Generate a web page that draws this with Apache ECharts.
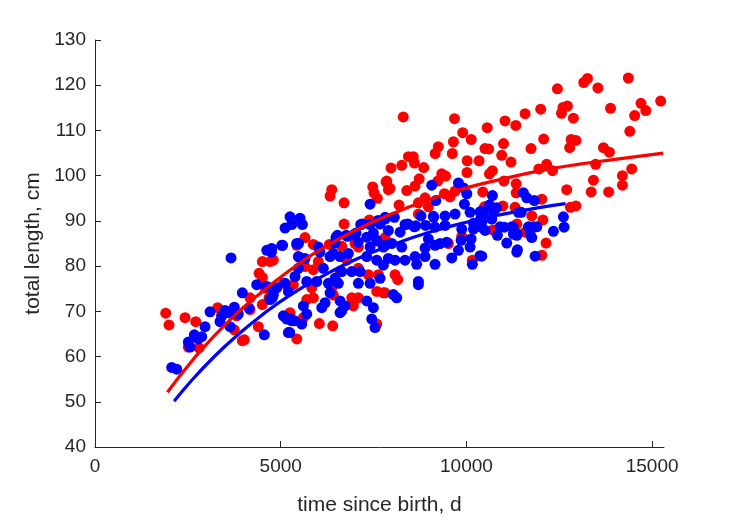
<!DOCTYPE html>
<html>
<head>
<meta charset="utf-8">
<script src="https://cdn.jsdelivr.net/npm/echarts@6/dist/echarts.min.js"></script>
<style>html,body{margin:0;padding:0;background:#fff}#c{width:729px;height:521px}</style>
</head>
<body>
<div id="c"></div>
<script>
const xTicks = [0, 5000, 10000, 15000];
const yTicks = [40, 50, 60, 70, 80, 90, 100, 110, 120, 130];
const xLabel = 'time since birth, d';
const yLabel = 'total length, cm';

// red observations [time since birth (d), total length (cm)]
const redPoints = [
[8300,113.0],[9680,112.6],[9900,109.5],[10560,110.6],[11040,112.1],[11330,111.1],[11580,113.7],[12000,114.7],[12080,108.1],[12450,119.2],
[12560,113.8],[12600,115.1],[12720,115.4],[12880,112.7],[12820,108.0],[12950,107.8],[13160,120.6],[13260,121.5],[13540,119.4],[13880,114.9],
[14360,121.6],[14400,109.8],[14530,113.3],[14700,116.0],[14830,114.4],[15230,116.5],
[10130,108.0],[9650,107.5],[9245,106.4],[9160,104.9],[9620,104.9],[10020,103.3],[10340,103.3],[10500,106.0],[10600,105.9],[11000,107.1],
[10950,104.5],[11200,103.0],[11740,106.0],[12780,106.2],[13690,106.2],[13850,105.2],[13480,102.5],[11950,101.5],[12160,102.5],[12320,101.1],
[14450,101.5],[14200,100.0],[14200,97.9],[13420,99.0],[13360,96.4],[13830,96.4],[12700,96.9],[12030,94.8],[11340,98.2],[11340,96.2],
[11310,93.0],[10980,93.3],[11760,91.1],[12060,90.2],[12800,93.0],[12950,93.3],[11360,89.3],[11580,87.5],[10710,88.0],[12145,85.1],
[12030,82.4],[10700,101.1],[10620,100.4],[11010,98.8],[10440,96.4],
[8440,104.2],[8570,104.2],[8600,102.8],[8260,102.3],[7970,101.7],[8850,101.8],[9335,100.4],[9440,99.9],[10016,100.7],[8730,99.3],
[9230,98.8],[7855,98.8],[7944,97.2],[8617,97.7],[8393,96.7],[9695,96.6],[9408,96.0],[9560,95.3],[8887,95.1],[8187,93.5],
[8707,94.0],[8976,93.1],[8707,91.5],[10485,93.1],
[7837,98.6],[7900,96.9],[7478,97.5],[7513,96.2],[7602,95.0],[6374,96.9],[6329,95.5],[6706,94.0],[6706,89.3],[7387,90.2],
[5655,86.3],[5879,84.8],[5432,84.6],[6310,84.8],[6643,84.4],[7629,85.5],[7810,86.3],[7002,85.0],[7091,84.2],
[8079,78.1],[8151,77.0],[7810,74.1],[10160,81.3],[9514,85.0],[9875,86.6],
[4802,81.3],[5655,79.9],[5879,79.2],[6013,81.0],[6598,78.8],[5071,76.2],[5340,75.9],[5835,75.2],[5879,73.0],[5701,72.6],
[6374,75.2],[6418,73.6],[5251,69.7],[5610,68.6],[6040,67.3],[6401,66.8],[6913,73.0],[7091,73.0],[6956,71.2],[7586,74.4],
[7764,74.1],[7586,67.2],[6778,81.3],[7091,79.5],[7360,78.1],[7629,78.1],[5432,63.9],
[1904,69.6],[1993,67.0],[2424,68.6],[2712,67.7],[3304,70.8],[3412,69.0],[3751,65.9],[3967,63.5],[4021,63.7],[2513,62.1],
[2801,61.9],[4506,81.0],[4417,78.4],[4507,77.5],[4713,81.0],[4174,73.0],[4174,70.4],[4506,71.5],[4578,75.1],[4398,66.6],
[4686,73.0],[3816,69.0]
];

// blue observations [time since birth (d), total length (cm)]
const bluePoints = [
[9066,97.9],[9786,98.4],[9920,97.3],[10010,96.0],[9175,94.5],[9946,93.7],[10099,91.9],[10368,91.9],[7810,90.8],[8060,90.8],
[9111,91.0],[9426,91.1],[9695,91.5],[8348,89.2],[8600,88.7],[9156,88.6],[9426,89.0],[9875,88.2],[10214,89.0],[10413,89.7],
[7899,87.9],[8214,87.5],
[10700,95.6],[11535,96.2],[11626,95.1],[11830,94.5],[10618,93.5],[10726,91.9],[10457,91.9],[10683,90.4],[11400,91.9],[10368,90.2],
[10503,87.9],[10907,88.7],[11221,88.7],[11265,87.1],[11356,86.8],[11670,88.7],[11804,88.7],[11895,88.7],[11715,87.1],[11760,86.3],
[10834,86.8],[12342,87.7],[12630,88.6],[12612,90.9],[11086,85.1],[11373,83.6],[11356,83.1],[11849,82.2],[10413,82.2],
[10810,92.9],[10382,92.1],[8777,91.1],[9118,90.8],[7193,89.3],[7406,89.2],[7621,90.1],[6528,86.8],[6765,86.8],[6977,87.0],
[7085,85.3],[8424,89.3],[8636,88.9],[8903,89.0],[10190,89.5],[10190,88.2],[10400,88.6],[11475,91.9],[11260,88.6],[11022,88.6],
[11367,87.1],
[7406,93.7],[5251,90.9],[5521,90.6],[5583,89.2],[5117,88.4],[5297,89.2],[5028,84.6],[5432,85.0],[6013,84.2],[6059,83.1],
[6490,86.4],[6463,85.1],[6795,86.6],[7155,89.2],[7029,87.3],[7317,86.4],[7495,87.3],[7675,89.3],[7810,90.4],[7586,85.7],
[7406,84.2],[7764,84.2],[4758,83.9],[6418,82.8],[6821,82.8],
[7810,84.6],[7990,85.0],[8260,84.2],[7899,81.7],[8079,81.3],[8348,81.3],[8617,82.1],[8887,82.1],[8661,80.4],[9156,80.4],
[9605,81.8],[9786,83.5],[10099,84.2],[9857,85.7],[10126,86.0],[10368,82.3],[10160,80.4],[9291,85.0],[9471,85.3],[8707,76.6],
[8707,75.9],[8033,73.7],[8124,73.0],[8887,84.0],[9156,84.6],[8976,86.0],
[5475,82.1],[5655,81.7],[5475,79.5],[5386,77.7],[5117,76.2],[4893,75.2],[4802,73.7],[4713,72.6],[5206,74.4],[5701,76.6],
[5970,76.6],[6283,76.2],[6552,76.2],[6463,77.3],[6643,78.8],[6148,79.5],[6329,74.1],[6194,71.9],[6598,72.3],[6732,71.2],
[5610,71.2],[5701,69.4],[6105,70.8],[6598,69.7],[6643,70.1],[5071,69.0],[5162,68.3],[5297,67.9],[5566,67.2],[5206,65.3],
[7317,72.3],[7495,70.8],[7451,68.3],[7540,66.4],[7091,76.2],[7406,76.2],[7675,77.3],[6913,78.8],[7136,78.8],[7317,82.1],
[7586,81.3],[7764,80.2],[6329,82.1],[6598,82.1],
[3662,81.8],[4354,75.9],[3967,74.1],[4624,75.5],[4775,73.0],[4147,70.7],[3097,69.9],[3501,70.2],[3751,70.9],[3859,69.4],
[3412,69.0],[3609,69.7],[3366,67.7],[3636,66.6],[2962,66.6],[2873,64.4],[2782,63.9],[2513,63.2],[2558,62.1],[4559,64.8],
[2065,57.6],[2200,57.2],[2674,64.8],[4624,83.5],[4750,83.1],[5052,84.6],[5480,85.0],[5512,81.9],[5243,65.3],[5265,68.3],
[5372,67.9]
];

// growth curves
const redCurveT = [1950, 2400, 2900, 3500, 4000, 4800, 5500, 6000, 7000, 8000, 9000, 10000, 11000, 12000, 13000, 14000, 15300];
const redCurveL = [52.1, 56.9, 61.8, 67.0, 70.9, 76.3, 80.6, 83.3, 87.9, 91.6, 94.7, 97.3, 99.3, 101.1, 102.5, 103.6, 105.0];
const blueCurveT = [2130, 2600, 3200, 3800, 4500, 5200, 6000, 7000, 8000, 9000, 10000, 11000, 12000, 12670];
const blueCurveL = [50.1, 54.7, 59.9, 64.5, 69.2, 73.3, 77.2, 81.4, 84.7, 87.5, 89.7, 91.5, 93.0, 93.8];

const zip = (a, b) => a.map((v, i) => [v, b[i]]);
const axisColor = '#262626';
const font = '"Liberation Sans", Arial, Helvetica, sans-serif';

const chart = echarts.init(document.getElementById('c'), null, {renderer: 'canvas'});
chart.setOption({
  animation: false,
  backgroundColor: '#ffffff',
  grid: {left: 95, right: 65, top: 40, bottom: 68},
  xAxis: {
    type: 'value', min: 0, max: 15320, interval: 5000,
    name: xLabel, nameLocation: 'middle', nameGap: 48,
    nameTextStyle: {fontSize: 21, color: axisColor, fontFamily: font},
    axisLine: {show: true, onZero: false, lineStyle: {color: axisColor, width: 1}},
    axisTick: {show: true, inside: true, length: 6, customValues: xTicks, lineStyle: {color: axisColor}},
    axisLabel: {fontSize: 19, color: axisColor, fontFamily: font, margin: 10, customValues: xTicks,
                formatter: v => String(v)},
    splitLine: {show: false}
  },
  yAxis: {
    type: 'value', min: 40, max: 130, interval: 10,
    name: yLabel, nameLocation: 'middle', nameGap: 44,
    nameTextStyle: {fontSize: 21, color: axisColor, fontFamily: font},
    axisLine: {show: true, onZero: false, lineStyle: {color: axisColor, width: 1}},
    axisTick: {show: true, inside: true, length: 6, customValues: yTicks, lineStyle: {color: axisColor}},
    axisLabel: {fontSize: 19, color: axisColor, fontFamily: font, margin: 9, customValues: yTicks,
                formatter: v => String(v)},
    splitLine: {show: false}
  },
  series: [
    {type: 'scatter', data: redPoints, symbolSize: 11, itemStyle: {color: '#ff0000', opacity: 1}},
    {type: 'line', data: zip(redCurveT, redCurveL), smooth: true, symbol: 'none', lineStyle: {color: '#ff0000', width: 3.2}},
    {type: 'scatter', data: bluePoints, symbolSize: 11, itemStyle: {color: '#0000ff', opacity: 1}},
    {type: 'line', data: zip(blueCurveT, blueCurveL), smooth: true, symbol: 'none', lineStyle: {color: '#0000ff', width: 3.2}}
  ]
});
</script>
</body>
</html>
